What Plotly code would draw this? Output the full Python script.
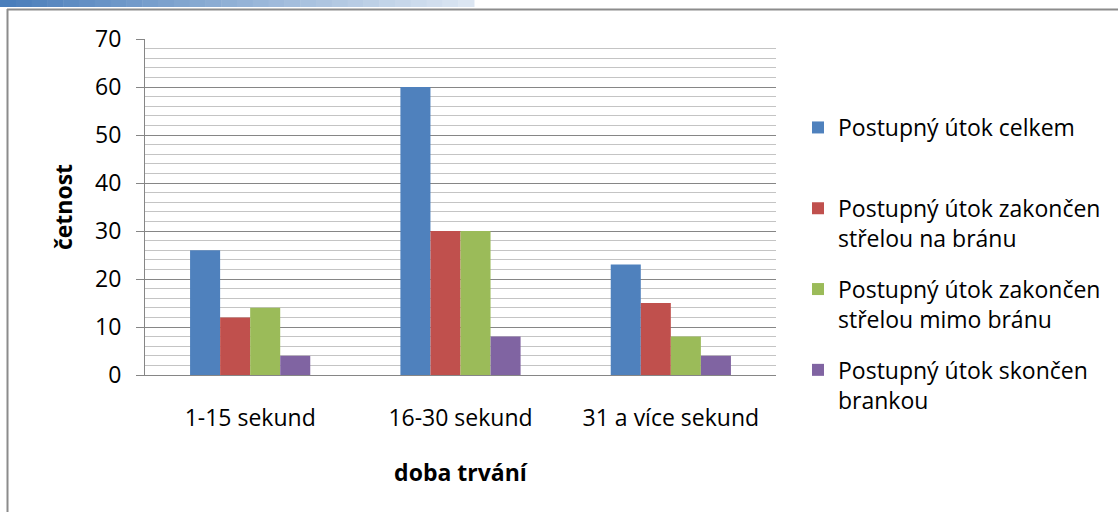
import plotly.graph_objects as go

categories = ["1-15 sekund", "16-30 sekund", "31 a více sekund"]
series_names = [
    "Postupný útok celkem",
    "Postupný útok zakončen<br>střelou na bránu",
    "Postupný útok zakončen<br>střelou mimo bránu",
    "Postupný útok skončen<br>brankou",
]
celkem = [26, 60, 23]
na_branu = [12, 30, 15]
mimo_branu = [14, 30, 8]
brankou = [4, 8, 4]
colors = ["#4F81BD", "#C0504D", "#9BBB59", "#8064A2"]

FONT = "Open Sans"
FS = 23
fig = go.Figure()
for i, (name, vals) in enumerate(zip(series_names, [celkem, na_branu, mimo_branu, brankou])):
    fig.add_trace(go.Bar(
        x=categories, y=vals, name=name if "<br>" in name else name + "<br> ",
        marker=dict(color=colors[i], line=dict(width=0)),
        legendgroup=str(i),
    ))

W, H = 1118, 512
L, R, T, B = 145, 342, 39, 137
pw, ph = W - L - R, H - T - B

def px(x):
    return (x - L) / pw

def py(y):
    return (H - B - y) / ph

shapes = []
# frame
shapes.append(dict(type="line", xref="paper", yref="paper", x0=px(7), x1=px(1118), y0=py(9.5), y1=py(9.5),
                   line=dict(color="#8c8c8c", width=2)))
shapes.append(dict(type="line", xref="paper", yref="paper", x0=px(7.5), x1=px(7.5), y0=py(9), y1=py(512),
                   line=dict(color="#8c8c8c", width=2)))
# top banner gradient
n = 30
x_start, x_end = 0, 474
c0 = (74, 126, 187)
c1 = (220, 230, 242)
for k in range(n):
    t = k / (n - 1)
    c = tuple(int(c0[j] + (c1[j] - c0[j]) * t) for j in range(3))
    xa = x_start + (x_end - x_start) * k / n
    xb = x_start + (x_end - x_start) * (k + 1) / n + 0.5
    shapes.append(dict(type="rect", xref="paper", yref="paper", x0=px(xa), x1=px(xb), y0=py(0), y1=py(7),
                       line=dict(width=0), fillcolor="rgb(%d,%d,%d)" % c, layer="above"))

fig.update_layout(
    width=W, height=H,
    margin=dict(l=L, r=R, t=T, b=B, autoexpand=False),
    paper_bgcolor="white", plot_bgcolor="white",
    barmode="group", bargap=0.4286, bargroupgap=0,
    font=dict(family=FONT, size=FS, color="#000000"),
    showlegend=True,
    legend=dict(x=px(798), xanchor="left", y=py(106), yanchor="top", valign="top",
                tracegroupgap=18, font=dict(family=FONT, size=FS),
                bgcolor="rgba(0,0,0,0)", itemwidth=30),
    shapes=shapes,
    xaxis=dict(showline=True, linecolor="#868686", linewidth=1, ticks="",
               showgrid=False, ticklabelstandoff=22, tickfont=dict(size=FS),
               title=dict(text="<b>doba trvání</b>", font=dict(size=FS), standoff=33),
               fixedrange=True),
    yaxis=dict(range=[0, 70], tickmode="linear", dtick=10, tick0=0,
               showline=True, linecolor="#868686", linewidth=1,
               ticks="outside", ticklen=8, tickcolor="#868686",
               showgrid=True, gridcolor="#868686", gridwidth=1,
               minor=dict(dtick=2, showgrid=True, gridcolor="#c4c4c4", gridwidth=1, ticks=""),
               ticklabelstandoff=10, tickfont=dict(size=FS),
               title=dict(text="<b>četnost</b>", font=dict(size=FS), standoff=16),
               zeroline=False, fixedrange=True),
)

fig.write_html("out.html", config={"displayModeBar": False},
               post_script="document.body.style.margin='0';document.body.style.padding='0';")
